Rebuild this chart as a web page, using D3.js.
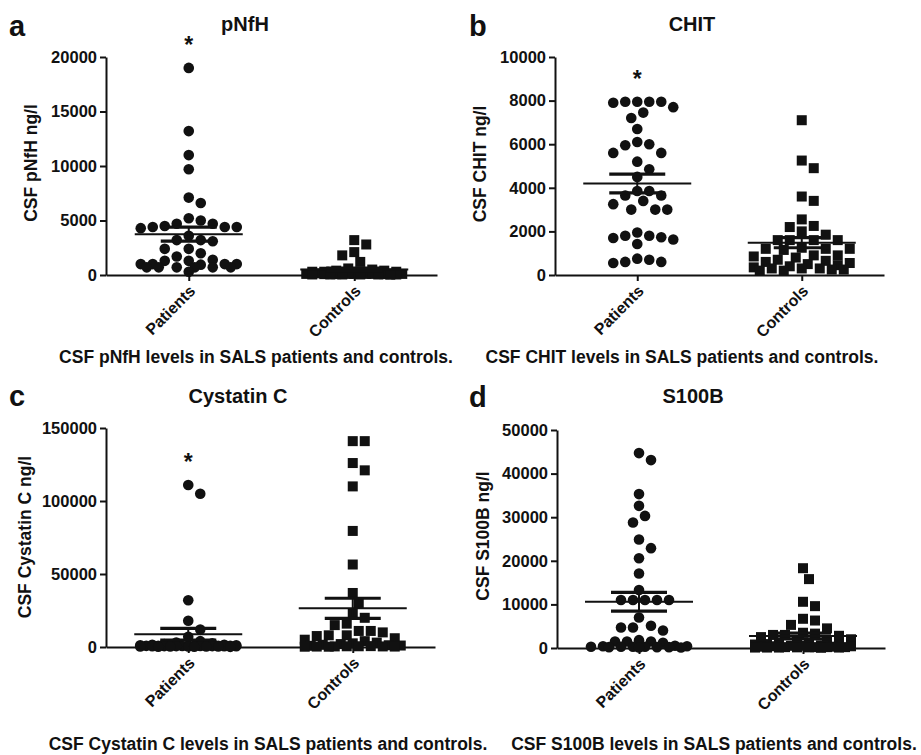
<!DOCTYPE html>
<html>
<head>
<meta charset="utf-8">
<script src="https://cdn.jsdelivr.net/npm/d3@7"></script>
<style>
  body { margin: 0; background: #fff; }
  svg text { font-family: "Liberation Sans", Arial, sans-serif; font-weight: bold; fill: #111; }
</style>
</head>
<body>
<svg id="chart" width="921" height="755"></svg>
<script>
// groups on the x axis
const groups = ['Patients', 'Controls'];

// values (ng/l)
const pnfhPatients = [19000, 13200, 11000, 9700, 7100, 6600, 5200, 5000, 4700, 4700, 4500, 4400, 4400, 4400, 4300, 3600, 3200, 3200, 3100, 2400, 2400, 2000, 1700, 1400, 1300, 1300, 1000, 1000, 1000, 1000, 950, 700, 700, 700, 700, 700, 700, 300];
const pnfhControls = [3200, 2800, 2100, 1800, 1200, 600, 500, 400, 400, 300, 300, 300, 200, 200, 200, 200, 150, 150, 100, 100, 100, 100, 100, 100, 80, 80, 80, 50, 50, 50, 50, 50, 50, 30];
const chitPatients = [7950, 7950, 7900, 7700, 7950, 7950, 7450, 7200, 6700, 6100, 5950, 6000, 5600, 5600, 5200, 4850, 4500, 3850, 3650, 3650, 3850, 3400, 3250, 3000, 3000, 3000, 1800, 1730, 1630, 1420, 1700, 1800, 1950, 750, 600, 550, 600, 700];
const chitControls = [7100, 5250, 4900, 3600, 3400, 2550, 2250, 2200, 2000, 1850, 1600, 1600, 1600, 1600, 1250, 1200, 1200, 1150, 1200, 900, 900, 850, 800, 700, 650, 600, 550, 500, 450, 400, 350, 300, 300, 300, 250, 250, 200, 200];
const cystatinPatients = [111000, 105000, 32000, 18000, 12000, 7000, 4000, 3000, 2500, 2000, 1500, 1500, 1200, 1200, 1000, 1000, 1000, 900, 900, 800, 800, 800, 700, 700, 600, 600, 600, 500, 500, 500, 400, 400, 300, 300, 300, 200, 200, 100];
const cystatinControls = [141000, 141000, 126000, 121000, 110000, 79500, 56500, 37000, 30000, 23000, 20000, 16000, 15000, 11000, 11000, 10000, 8000, 8000, 7500, 6000, 5000, 4000, 3000, 2500, 2000, 1500, 1200, 1000, 800, 600, 500, 500, 400, 400, 300, 300, 200, 200];
const s100bPatients = [44700, 43100, 35300, 32600, 30300, 28800, 24900, 22900, 20600, 17100, 13300, 11000, 11000, 11000, 11000, 11000, 7000, 5100, 4700, 4700, 4000, 1800, 1500, 1500, 1500, 1200, 500, 400, 400, 300, 300, 300, 300, 200, 200, 200, 100, 100];
const s100bControls = [18300, 15800, 10600, 9600, 6700, 6300, 5300, 4500, 3500, 3300, 3000, 3000, 2800, 2500, 2000, 1800, 1500, 1200, 1000, 900, 800, 700, 600, 500, 500, 400, 400, 300, 300, 200, 200, 200, 200, 150, 150, 100, 100, 100, 100, 50];

// mean and SEM per group, as drawn
const pnfhMeans = [3750, 500], pnfhSems = [650, 130];
const chitMeans = [4200, 1480], chitSems = [430, 230];
const cystatinMeans = [8700, 26500], cystatinSems = [4000, 6900];
const s100bMeans = [10600, 2750], s100bSems = [2150, 650];

// y ticks
const pnfhTicks = [0, 5000, 10000, 15000, 20000];
const chitTicks = [0, 2000, 4000, 6000, 8000, 10000];
const cystatinTicks = [0, 50000, 100000, 150000];
const s100bTicks = [0, 10000, 20000, 30000, 40000, 50000];

const letters = ['a', 'b', 'c', 'd'];
const titles = ['pNfH', 'CHIT', 'Cystatin C', 'S100B'];
const yTitles = ['CSF pNfH ng/l', 'CSF CHIT ng/l', 'CSF Cystatin C ng/l', 'CSF S100B ng/l'];
const captions = ['CSF pNfH levels in SALS patients and controls.', 'CSF CHIT levels in SALS patients and controls.',
  'CSF Cystatin C levels in SALS patients and controls.', 'CSF S100B levels in SALS patients and controls.'];
const starred = [true, true, true, false];

const panelData = [
  [pnfhPatients, pnfhControls, pnfhMeans, pnfhSems, pnfhTicks],
  [chitPatients, chitControls, chitMeans, chitSems, chitTicks],
  [cystatinPatients, cystatinControls, cystatinMeans, cystatinSems, cystatinTicks],
  [s100bPatients, s100bControls, s100bMeans, s100bSems, s100bTicks]
];

// where each panel sits on the page
const boxes = [
  {x0: 106, x1: 437, y0: 275, y1: 57,  lx: 9,   ly: 36,  tx: 245, ty: 31,  yl: [31, 163],  cx: 256, cy: 363},
  {x0: 555, x1: 884, y0: 275, y1: 57,  lx: 469, ly: 36,  tx: 692, ty: 31,  yl: [480, 164], cx: 682, cy: 363},
  {x0: 106, x1: 435, y0: 647, y1: 428, lx: 9,   ly: 406, tx: 238, ty: 403, yl: [25, 537],  cx: 268, cy: 750},
  {x0: 557, x1: 885, y0: 648, y1: 430, lx: 469, ly: 407, tx: 693, ty: 403, yl: [483, 536], cx: 714, cy: 750}
];

const svg = d3.select('#chart');

// simple beeswarm: place each point at the nearest free offset from the centre
function swarm(values, cx, y, diam, maxOff) {
  const step = diam / 2 + 0.5;
  const placed = [];
  const pts = values.map(v => ({v: v, y: y(v)})).sort((a, b) => a.y - b.y);
  pts.forEach(p => {
    let best = 0, bestD = -1, found = false;
    for (let k = 0; k * step <= maxOff && !found; k++) {
      const offs = k === 0 ? [0] : [k * step, -k * step];
      for (const o of offs) {
        let dmin = Infinity;
        placed.forEach(q => {
          const d = Math.hypot(q.dx - o, q.y - p.y);
          if (d < dmin) dmin = d;
        });
        if (dmin >= diam) { best = o; found = true; break; }
        if (dmin > bestD) { bestD = dmin; best = o; }
      }
    }
    p.dx = best;
    p.x = cx + best;
    placed.push(p);
  });
  return pts;
}

boxes.forEach((b, i) => {
  const [pat, con, means, sems, ticks] = panelData[i];
  const g = svg.append('g');

  const x = d3.scalePoint().domain(groups).range([b.x0, b.x1]).padding(0.5);
  const y = d3.scaleLinear().domain([0, d3.max(ticks)]).range([b.y0, b.y1]);

  // axes
  const ya = g.append('g')
    .attr('transform', `translate(${b.x0},0)`)
    .call(d3.axisLeft(y).tickValues(ticks).tickFormat(d3.format('d')).tickSize(6).tickSizeOuter(0).tickPadding(3));
  ya.selectAll('path, line').attr('stroke', '#111').attr('stroke-width', 2);
  ya.selectAll('text').attr('font-size', 16.5).attr('font-family', null);

  const xa = g.append('g')
    .attr('transform', `translate(0,${b.y0})`)
    .call(d3.axisBottom(x).tickSize(6).tickSizeOuter(0));
  xa.selectAll('path, line').attr('stroke', '#111').attr('stroke-width', 2);
  xa.selectAll('text')
    .attr('font-size', 16).attr('font-family', null)
    .attr('x', 0).attr('y', 0).attr('dy', 0)
    .style('text-anchor', 'end')
    .attr('transform', 'translate(7,17) rotate(-45)');

  // points
  const pp = swarm(pat, x('Patients'), y, 11, 48);
  g.append('g').selectAll('circle')
    .data(pp)
    .join('circle')
    .attr('cx', d => d.x)
    .attr('cy', d => d.y)
    .attr('r', 5.3)
    .attr('fill', '#111');

  const cp = swarm(con, x('Controls'), y, 11, 48);
  g.append('g').selectAll('rect')
    .data(cp)
    .join('rect')
    .attr('x', d => d.x - 5)
    .attr('y', d => d.y - 5)
    .attr('width', 10)
    .attr('height', 10)
    .attr('fill', '#111');

  // mean +/- SEM
  const ms = g.append('g').attr('stroke', '#111').selectAll('g')
    .data(groups.map((k, j) => ({k: k, m: means[j], s: sems[j]})))
    .join('g');
  ms.append('line')
    .attr('x1', d => x(d.k) - 54).attr('x2', d => x(d.k) + 54)
    .attr('y1', d => y(d.m)).attr('y2', d => y(d.m))
    .attr('stroke-width', 2);
  ms.append('line')
    .attr('x1', d => x(d.k)).attr('x2', d => x(d.k))
    .attr('y1', d => y(d.m - d.s)).attr('y2', d => y(d.m + d.s))
    .attr('stroke-width', 2);
  ms.selectAll('.cap')
    .data(d => [[d.k, d.m + d.s], [d.k, d.m - d.s]])
    .join('line')
    .attr('x1', d => x(d[0]) - 28).attr('x2', d => x(d[0]) + 28)
    .attr('y1', d => y(d[1])).attr('y2', d => y(d[1]))
    .attr('stroke-width', 3.2);

  // significance star
  if (starred[i]) {
    g.append('text')
      .attr('x', x('Patients'))
      .attr('y', y(d3.max(pat)) - 15)
      .attr('text-anchor', 'middle')
      .attr('font-size', 23)
      .text('*');
  }

  // labels
  g.append('text').attr('x', b.lx).attr('y', b.ly).attr('font-size', 29).text(letters[i]);
  g.append('text').attr('x', b.tx).attr('y', b.ty).attr('text-anchor', 'middle').attr('font-size', 20).text(titles[i]);
  g.append('text')
    .attr('transform', `translate(${b.yl[0]},${b.yl[1]}) rotate(-90)`)
    .attr('text-anchor', 'middle')
    .attr('dy', '0.35em')
    .attr('font-size', 17.5)
    .text(yTitles[i]);
  g.append('text').attr('x', b.cx).attr('y', b.cy).attr('text-anchor', 'middle').attr('font-size', 17.5).text(captions[i]);
});
</script>
</body>
</html>
